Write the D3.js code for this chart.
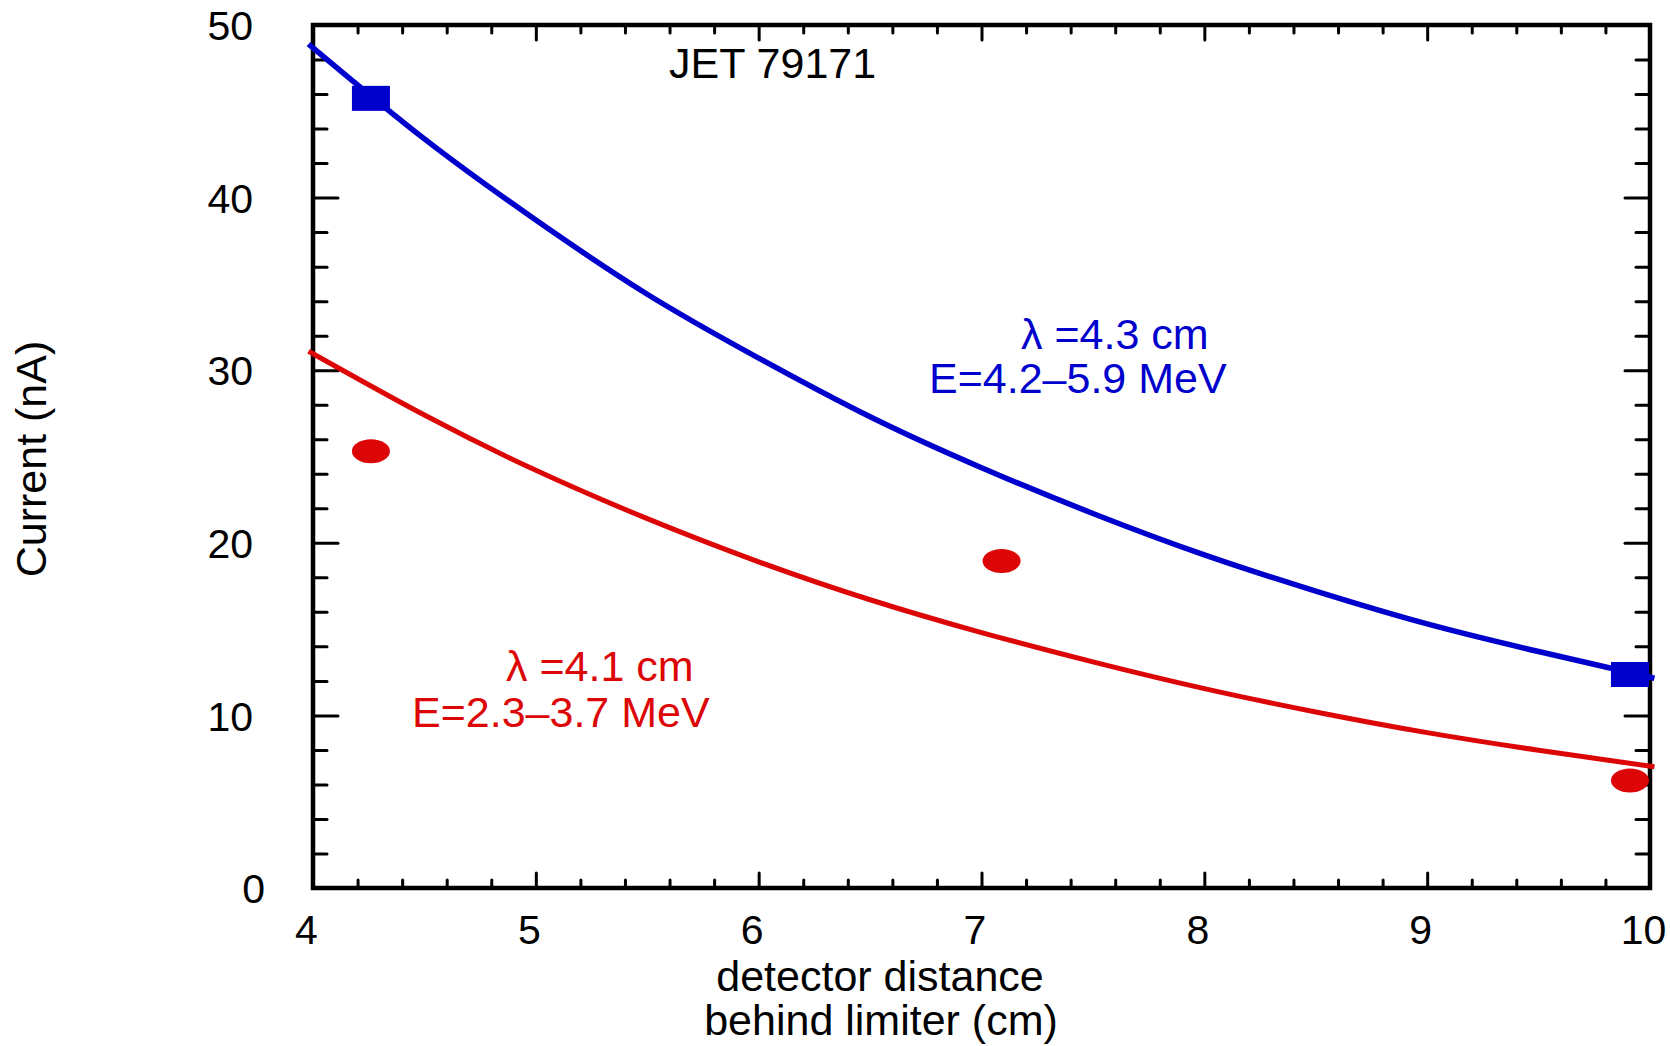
<!DOCTYPE html>
<html><head><meta charset="utf-8">
<script src="https://cdn.jsdelivr.net/npm/d3@7"></script>
<style>
html,body{margin:0;padding:0;background:#fff;}
text{font-family:"Liberation Sans",Arial,Helvetica,sans-serif;}
</style></head>
<body>
<svg id="chart" width="1670" height="1046"></svg>
<script>
// ---- data ----
const xMajorTicks = [4, 5, 6, 7, 8, 9, 10];
const yMajorTicks = [0, 10, 20, 30, 40, 50];
const xMinorTicks = [4.2,4.4,4.6,4.8,5.2,5.4,5.6,5.8,6.2,6.4,6.6,6.8,7.2,7.4,7.6,7.8,8.2,8.4,8.6,8.8,9.2,9.4,9.6,9.8];
const yMinorTicks = [2,4,6,8,12,14,16,18,22,24,26,28,32,34,36,38,42,44,46,48];

// fitted curves
const fitX     = [3.98, 4.5, 5, 5.5, 6, 6.5, 7, 7.5, 8, 8.5, 9, 9.5, 10.02];
const blueFitY = [48.9, 43.4, 38.7, 34.4, 30.7, 27.3, 24.35, 21.7, 19.3, 17.2, 15.3, 13.7, 12.15];
const redFitY  = [31.1, 27.4, 24.2, 21.4, 18.9, 16.7, 14.8, 13.1, 11.55, 10.2, 9.0, 7.98, 7.02];

// measured points
const blueX = [4.26, 9.91];
const blueY = [45.75, 12.37];
const redX  = [4.26, 7.09, 9.91];
const redY  = [25.3, 18.95, 6.23];

const blueLabel = ["\u03bb =4.3 cm", "E=4.2\u20135.9 MeV"];
const redLabel  = ["\u03bb =4.1 cm", "E=2.3\u20133.7 MeV"];
const titleText = "JET 79171";
const xTitle = ["detector distance", "behind limiter (cm)"];
const yTitle = "Current (nA)";

// ---- layout ----
const L = 313, R = 1650, T = 25, B = 888;
const blue = "#0000cd", red = "#dd0606";
const svg = d3.select("#chart");
const x = d3.scaleLinear().domain([4, 10]).range([L, R]);
const y = d3.scaleLinear().domain([0, 50]).range([B, T]);

const FS = 41, FA = 43;
function styleAxis(g) {
  g.select(".domain").remove();
  g.selectAll(".tick line").attr("stroke", "#000").attr("stroke-width", 3).attr("stroke-linecap", "round");
  g.selectAll("text").attr("font-size", FS).attr("fill", "#000")
   .style("font-family", '"Liberation Sans",Arial,sans-serif');
}

// bottom major
svg.append("g").attr("transform", `translate(0,${B})`)
  .call(d3.axisBottom(x).tickValues(xMajorTicks).tickSize(-15).tickPadding(27).tickFormat(d3.format("d")))
  .call(styleAxis).selectAll("text").attr("dx", -7);
// bottom minor
svg.append("g").attr("transform", `translate(0,${B})`)
  .call(d3.axisBottom(x).tickValues(xMinorTicks).tickSize(-8).tickFormat(""))
  .call(styleAxis);
// top major/minor
svg.append("g").attr("transform", `translate(0,${T})`)
  .call(d3.axisTop(x).tickValues(xMajorTicks).tickSize(-15).tickFormat(""))
  .call(styleAxis);
svg.append("g").attr("transform", `translate(0,${T})`)
  .call(d3.axisTop(x).tickValues(xMinorTicks).tickSize(-8).tickFormat(""))
  .call(styleAxis);
// left
svg.append("g").attr("transform", `translate(${L},0)`)
  .call(d3.axisLeft(y).tickValues(yMajorTicks).tickSize(-25).tickPadding(60).tickFormat(d3.format("d")))
  .call(styleAxis).selectAll("text").attr("dy", "0.36em").attr("dx", d => d === 0 ? 12 : 0);
svg.append("g").attr("transform", `translate(${L},0)`)
  .call(d3.axisLeft(y).tickValues(yMinorTicks).tickSize(-14).tickFormat(""))
  .call(styleAxis);
// right
svg.append("g").attr("transform", `translate(${R},0)`)
  .call(d3.axisRight(y).tickValues(yMajorTicks).tickSize(-25).tickFormat(""))
  .call(styleAxis);
svg.append("g").attr("transform", `translate(${R},0)`)
  .call(d3.axisRight(y).tickValues(yMinorTicks).tickSize(-14).tickFormat(""))
  .call(styleAxis);

// frame
svg.append("rect").attr("x", L).attr("y", T).attr("width", R - L).attr("height", B - T)
  .attr("fill", "none").attr("stroke", "#000").attr("stroke-width", 4.5);

// curves
const line = d3.line().x(d => x(d[0])).y(d => y(d[1])).curve(d3.curveNatural);
svg.append("path").datum(fitX.map((v, i) => [v, blueFitY[i]]))
  .attr("d", line).attr("fill", "none").attr("stroke", blue).attr("stroke-width", 5.5);
svg.append("path").datum(fitX.map((v, i) => [v, redFitY[i]]))
  .attr("d", line).attr("fill", "none").attr("stroke", red).attr("stroke-width", 5);

// markers
svg.append("g").selectAll("rect").data(blueX.map((v, i) => [v, blueY[i]])).join("rect")
  .attr("x", d => x(d[0]) - 19).attr("y", d => y(d[1]) - 12.5)
  .attr("width", 38).attr("height", 25).attr("fill", blue);
svg.append("g").selectAll("ellipse").data(redX.map((v, i) => [v, redY[i]])).join("ellipse")
  .attr("cx", d => x(d[0])).attr("cy", d => y(d[1]))
  .attr("rx", 19).attr("ry", 12).attr("fill", red);

// annotations
svg.append("text").attr("x", 669).attr("y", 78).attr("font-size", FA).attr("fill", "#000").text(titleText);
svg.append("text").attr("x", 1021).attr("y", 349).attr("font-size", FA).attr("fill", blue).text(blueLabel[0]);
svg.append("text").attr("x", 929).attr("y", 393).attr("font-size", FA).attr("fill", blue).text(blueLabel[1]);
svg.append("text").attr("x", 506).attr("y", 681).attr("font-size", FA).attr("fill", red).text(redLabel[0]);
svg.append("text").attr("x", 412).attr("y", 727).attr("font-size", FA).attr("fill", red).text(redLabel[1]);

// axis titles
svg.append("text").attr("x", 880).attr("y", 991).attr("text-anchor", "middle").attr("font-size", FA).attr("fill", "#000").text(xTitle[0]);
svg.append("text").attr("x", 881).attr("y", 1035).attr("text-anchor", "middle").attr("font-size", FA).attr("fill", "#000").text(xTitle[1]);
svg.append("text").attr("transform", "translate(46,459) rotate(-90)").attr("text-anchor", "middle")
  .attr("font-size", FA).attr("fill", "#000").text(yTitle);
</script>
</body></html>
